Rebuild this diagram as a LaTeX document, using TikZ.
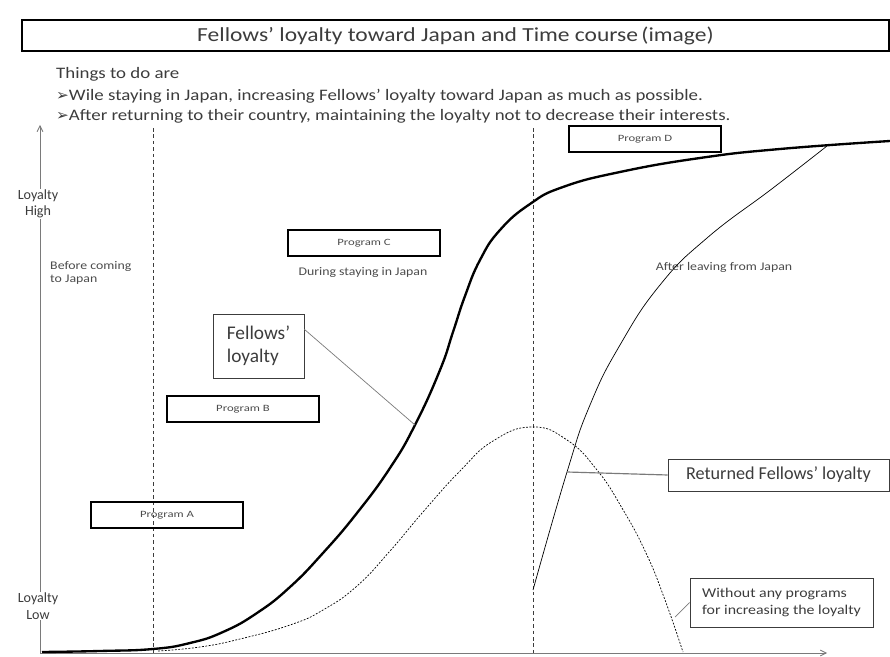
\documentclass[tikz,border=0pt]{standalone}
\usepackage{fontspec}
\setmainfont{Carlito}
\newfontfamily\wideface{Carlito}[FakeStretch=1.18]
\newfontfamily\widerface{Carlito}[FakeStretch=1.32]
\newfontfamily\symfont{DejaVu Sans}
\usetikzlibrary{positioning,arrows.meta}
\definecolor{inkgray}{HTML}{3C3C3C}
\definecolor{axisgray}{HTML}{7A7A7A}
\tikzset{font=\fontsize{12}{14}\selectfont}
\tikzset{
	titlebox/.style={draw=black, line width=1.3pt, minimum width=26.01cm, minimum height=0.93cm, font=\wideface\fontsize{17}{20}\selectfont},
	progbox/.style={draw=black, line width=1pt, minimum width=4.56cm, minimum height=0.78cm, font=\widerface\fontsize{8.2}{10}\selectfont, text=black!70},
	callout/.style={draw=inkgray, line width=0.6pt, align=left, inner sep=0pt},
	note/.style={anchor=west, inner sep=0pt, align=left},
	task/.style={note, font=\wideface\fontsize{13.65}{16}\selectfont},
	small/.style={font=\wideface\fontsize{10}{11.5}\selectfont, text=black!70},
	leader/.style={draw=axisgray, line width=0.6pt},
	phase/.style={dashed, dash pattern=on 3pt off 2.5pt, line width=0.5pt, draw=inkgray},
	axis/.style={draw=axisgray, line width=0.7pt, -{Straight Barb[length=5pt, width=5pt]}}
}
\newcommand{\tickmark}{{\symfont\fontsize{13}{12}\selectfont ➢}}

\begin{document}
\begin{tikzpicture}[x=0.03cm, y=-0.03cm, text=inkgray]
	\useasboundingbox (0,0) rectangle (890,657);

	% title and tasks
	\node[titlebox] (title) at (455.5,35.5) {Fellows’ loyalty toward Japan and Time course\,(image)};
	\node[task] (todo) at (56,74) {Things to do are};
	\node[task] (todoA) at (56,96) {\tickmark Wile staying in Japan, increasing Fellows’ loyalty toward Japan as much as possible.};
	\node[task] (todoB) at (56,116) {\tickmark After returning to their country, maintaining the loyalty not to decrease their interests.};

	% axes and phases
	\coordinate (origin) at (40,653);
	\coordinate (ytop) at (40,125);
	\coordinate (xend) at (827,653);
	\draw[axis] (origin) -- (ytop);
	\draw[axis] (origin) -- (xend);
	\draw[phase] (153,128) -- (153,653);
	\draw[phase] (533,128) -- (533,653);

	\node[fill=white, align=center, inner sep=1pt] (high) at (38,204) {Loyalty\\High};
	\node[fill=white, align=center, inner sep=1pt] (low) at (38,606) {Loyalty\\Low};

	\node[note, small] (before) at (50,273) {Before coming\\to Japan};
	\node[small] (during) at (363,272) {During staying in Japan};
	\node[small] (after) at (724,267) {After leaving from Japan};

	% programs
	\node[progbox] (progA) at (167,515) {Program A};
	\node[progbox] (progB) at (243,409) {Program B};
	\node[progbox] (progC) at (364,243) {Program C};
	\node[progbox] (progD) at (645,139) {Program D};

	% curves
	\draw[line width=0.6pt, dash pattern=on 1.6pt off 1.3pt] plot[smooth, tension=0.8] coordinates {(158,651) (200,647) (240,639) (290,625) (323,610) (357,586) (390,551) (423,512) (460,471) (493,441) (532,427) (567,440) (597,470) (622,508) (646,553) (665,600) (683,652)};
	\draw[line width=2pt] plot[smooth, tension=0.8] coordinates {(42,652) (100,651) (153,649) (190,643) (223,632) (257,613) (290,587) (323,553) (357,513) (390,468) (415,425) (440,370) (453,332) (465,296) (480,260) (500,230) (530,204) (563,187) (620,172) (700,158) (780,149) (890,141)};
	\draw[line width=0.6pt] plot[smooth, tension=0.8] coordinates {(533,590) (567,472) (590,405) (620,345) (660,285) (707,238) (773,188) (827,146)};

	% callouts
	\coordinate (onmain) at (415,425);
	\coordinate (onreturn) at (567,472);
	\coordinate (onwithout) at (675,617);
	\node[callout, minimum width=2.73cm, minimum height=1.92cm, font=\fontsize{16.5}{20}\selectfont] (fellows) at (258.5,346) {Fellows’\\loyalty};
	\node[callout, minimum width=6.63cm, minimum height=0.96cm, font=\fontsize{15.5}{18}\selectfont] (returned) at (778.5,475) {Returned Fellows’ loyalty};
	\node[callout, minimum width=5.49cm, minimum height=1.47cm, font=\wideface\fontsize{11.5}{14.5}\selectfont] (without) at (781.5,602.5) {Without any programs\\for increasing the loyalty};

	\draw[leader] (fellows.20) -- (onmain);
	\draw[leader, line width=1pt] (onreturn) -- (returned.west);
	\draw[leader] (onwithout) -- (without.west);
\end{tikzpicture}
\end{document}
